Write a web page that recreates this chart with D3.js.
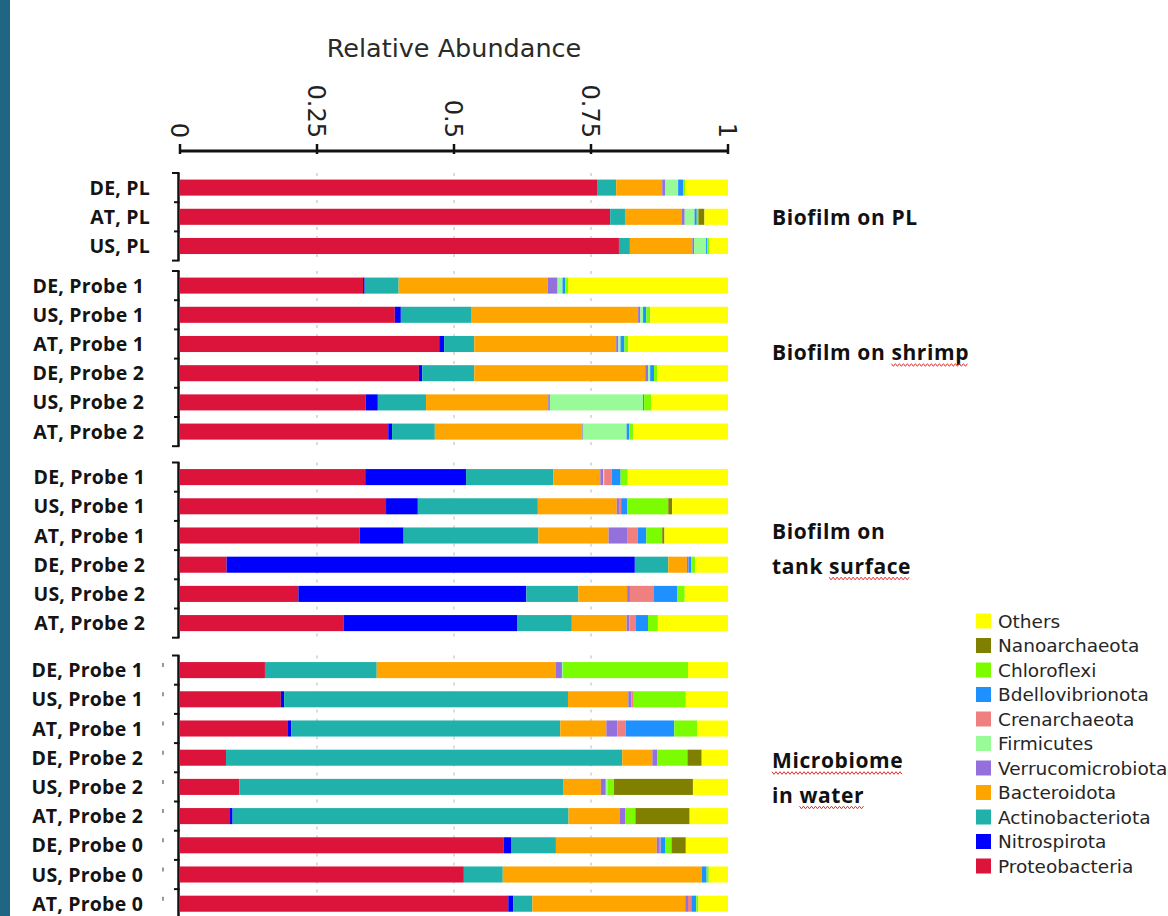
<!DOCTYPE html>
<html>
<head>
<meta charset="utf-8">
<script src="https://cdn.jsdelivr.net/npm/d3@7"></script>
<style>
  html, body { margin: 0; padding: 0; background: #fff; overflow: hidden; }
  svg { display: block; }
</style>
</head>
<body>
<svg id="chart" width="1168" height="916"></svg>
<script>
// ---- data -------------------------------------------------------------
// stacking order, left to right
const taxa = ["Proteobacteria", "Nitrospirota", "Actinobacteriota", "Bacteroidota",
  "Verrucomicrobiota", "Firmicutes", "Crenarchaeota", "Bdellovibrionota",
  "Chloroflexi", "Nanoarchaeota", "Others"];

const plLabels = ["DE, PL", "AT, PL", "US, PL"];
const plValues = [
  [0.761, 0,     0.035, 0.084, 0.005, 0.024, 0,     0.009, 0.004, 0,     0.078],
  [0.785, 0,     0.027, 0.104, 0.005, 0.018, 0,     0.004, 0.003, 0.011, 0.043],
  [0.801, 0,     0.020, 0.114, 0.003, 0.022, 0,     0.002, 0.004, 0,     0.034]
];

const shrimpLabels = ["DE, Probe 1", "US, Probe 1", "AT, Probe 1", "DE, Probe 2", "US, Probe 2", "AT, Probe 2"];
const shrimpValues = [
  [0.334, 0.003, 0.062, 0.272, 0.018, 0.009, 0,     0.005, 0.005, 0,     0.292],
  [0.392, 0.011, 0.128, 0.305, 0.004, 0.005, 0,     0.006, 0.007, 0,     0.142],
  [0.473, 0.009, 0.055, 0.259, 0.004, 0.004, 0,     0.007, 0.007, 0,     0.182],
  [0.436, 0.006, 0.095, 0.312, 0.005, 0.004, 0,     0.007, 0.006, 0,     0.129],
  [0.339, 0.022, 0.088, 0.223, 0.003, 0.170, 0,     0.002, 0.013, 0,     0.140],
  [0.380, 0.007, 0.078, 0.268, 0.002, 0.080, 0,     0.005, 0.007, 0,     0.173]
];

const tankLabels = ["DE, Probe 1", "US, Probe 1", "AT, Probe 1", "DE, Probe 2", "US, Probe 2", "AT, Probe 2"];
const tankValues = [
  [0.338, 0.184, 0.159, 0.086, 0.005, 0.002, 0.014, 0.016, 0.013, 0,     0.183],
  [0.376, 0.058, 0.219, 0.144, 0.004, 0,     0.004, 0.011, 0.075, 0.007, 0.102],
  [0.328, 0.080, 0.246, 0.128, 0.035, 0,     0.018, 0.016, 0.029, 0.004, 0.116],
  [0.085, 0.745, 0.061, 0.034, 0.003, 0,     0,     0.005, 0.007, 0,     0.060],
  [0.216, 0.416, 0.095, 0.089, 0.005, 0,     0.044, 0.042, 0.014, 0,     0.079],
  [0.299, 0.316, 0.100, 0.100, 0.005, 0,     0.012, 0.022, 0.018, 0,     0.128]
];

const waterLabels = ["DE, Probe 1", "US, Probe 1", "AT, Probe 1", "DE, Probe 2", "US, Probe 2",
  "AT, Probe 2", "DE, Probe 0", "US, Probe 0", "AT, Probe 0"];
const waterValues = [
  [0.155, 0,     0.204, 0.327, 0.011, 0.002, 0,     0,     0.228, 0,     0.073],
  [0.184, 0.006, 0.518, 0.110, 0.006, 0,     0.004, 0,     0.095, 0,     0.077],
  [0.197, 0.006, 0.491, 0.084, 0.020, 0,     0.015, 0.089, 0.042, 0,     0.056],
  [0.084, 0,     0.723, 0.055, 0.009, 0,     0,     0,     0.055, 0.026, 0.048],
  [0.108, 0,     0.591, 0.069, 0.009, 0.003, 0,     0,     0.012, 0.144, 0.064],
  [0.090, 0.006, 0.613, 0.093, 0.011, 0,     0,     0,     0.018, 0.099, 0.070],
  [0.591, 0.013, 0.082, 0.184, 0.004, 0,     0.003, 0.009, 0.011, 0.026, 0.077],
  [0.518, 0,     0.071, 0.363, 0,     0,     0,     0.009, 0.004, 0,     0.035],
  [0.599, 0.009, 0.035, 0.279, 0.005, 0,     0.006, 0.009, 0.004, 0,     0.054]
];

const groupNotes = [["Biofilm on PL"], ["Biofilm on shrimp"], ["Biofilm on", "tank surface"], ["Microbiome", "in water"]];
const flaggedWords = ["shrimp", "surface", "Microbiome", "water"];

const tickValues = [0, 0.25, 0.5, 0.75, 1];
const tickLabels = ["0", "0.25", "0.5", "0.75", "1"];
const gridValues = [0.25, 0.5, 0.75];
const axisTitle = "Relative Abundance";

// ---- styling ----------------------------------------------------------
const taxonColors = ["#dc143c", "#0000ff", "#20b2aa", "#ffa500", "#9370db", "#98fb98",
  "#f08080", "#1e90ff", "#7cfc00", "#808000", "#ffff00"];
const color = d3.scaleOrdinal().domain(taxa).range(taxonColors);

const groups = [
  { labels: plLabels, values: plValues },
  { labels: shrimpLabels, values: shrimpValues },
  { labels: tankLabels, values: tankValues },
  { labels: waterLabels, values: waterValues }
];

const step = 29.2;            // row pitch
const firstTop = 173;
const groupGap = [0, 10.4, 16.3, 17.8];
const labelRight = [150, 144, 145, 143];
const noteX = 772;
const noteBaseline = [225, 360, 539, 768];
const noteLineGap = 34.5;

const svg = d3.select("#chart");
svg.append("rect").attr("x", 0).attr("y", 0).attr("width", 1168).attr("height", 916).attr("fill", "#fff");
svg.append("rect").attr("x", 0).attr("y", 0).attr("width", 10).attr("height", 916).attr("fill", "#1e6684");

const x = d3.scaleLinear().domain([0, 1]).range([180, 728]);

// ---- top axis ---------------------------------------------------------
const axisY = 151;
const axisG = svg.append("g");
axisG.append("line")
  .attr("x1", x(0)).attr("x2", x(1)).attr("y1", axisY).attr("y2", axisY)
  .attr("stroke", "#111").attr("stroke-width", 3);
axisG.selectAll("line.tick").data(tickValues).join("line")
  .attr("class", "tick")
  .attr("x1", d => x(d)).attr("x2", d => x(d))
  .attr("y1", axisY - 7).attr("y2", axisY + 3)
  .attr("stroke", "#111").attr("stroke-width", 2.5);
axisG.selectAll("text.tl").data(tickValues).join("text")
  .attr("class", "tl")
  .attr("transform", d => `translate(${x(d)},${axisY - 13}) rotate(90)`)
  .attr("text-anchor", "end")
  .attr("dy", "0.36em")
  .attr("font-family", "DejaVu Sans")
  .attr("font-size", 24)
  .attr("fill", "#222")
  .text((d, i) => tickLabels[i]);
svg.append("text")
  .attr("x", (x(0) + x(1)) / 2).attr("y", 57)
  .attr("text-anchor", "middle")
  .attr("font-family", "DejaVu Sans")
  .attr("font-size", 25.5)
  .attr("fill", "#2a2a2a")
  .text(axisTitle);

// ---- groups of stacked bars ------------------------------------------
let groupTop = firstTop;
groups.forEach((grp, gi) => {
  groupTop += groupGap[gi];
  const top0 = groupTop;
  const n = grp.labels.length;
  const bottom = top0 + n * step;
  const ids = d3.range(n);
  const y = d3.scaleBand().domain(ids).range([top0, bottom]).paddingInner(0.45).paddingOuter(0.225);

  const rows = grp.values.map((vals, i) => {
    const o = { id: i };
    taxa.forEach((t, k) => { o[t] = vals[k]; });
    return o;
  });
  const series = d3.stack().keys(taxa)(rows);

  const g = svg.append("g");

  // dashed guides
  g.selectAll("line.grid").data(gridValues).join("line")
    .attr("class", "grid")
    .attr("x1", d => x(d)).attr("x2", d => x(d))
    .attr("y1", top0).attr("y2", bottom)
    .attr("stroke", "#c4c4c4").attr("stroke-width", 1.2)
    .attr("stroke-dasharray", "3,6");

  g.selectAll("g.series").data(series).join("g")
    .attr("class", "series")
    .attr("fill", d => color(d.key))
    .selectAll("rect").data(d => d.filter(s => s[1] - s[0] > 0)).join("rect")
    .attr("x", d => x(d[0]))
    .attr("width", d => x(d[1]) - x(d[0]))
    .attr("y", d => y(d.data.id))
    .attr("height", y.bandwidth());

  // bracket-like left axis
  g.append("line")
    .attr("x1", 178.5).attr("x2", 178.5).attr("y1", top0).attr("y2", bottom)
    .attr("stroke", "#111").attr("stroke-width", 2.5);
  g.selectAll("line.bt").data(d3.range(n + 1)).join("line")
    .attr("class", "bt")
    .attr("x1", d => (d === 0 || d === n) ? 172 : 174).attr("x2", 179.5)
    .attr("y1", d => top0 + d * step).attr("y2", d => top0 + d * step)
    .attr("stroke", "#111").attr("stroke-width", 2);

  // sample labels
  g.selectAll("text.lab").data(grp.labels).join("text")
    .attr("class", "lab")
    .attr("x", labelRight[gi])
    .attr("y", (d, i) => y(i) + y.bandwidth() / 2)
    .attr("dy", "0.36em")
    .attr("text-anchor", "end")
    .attr("font-family", "Open Sans")
    .attr("font-weight", 700)
    .attr("font-size", 19.5)
    .attr("letter-spacing", 0.2)
    .attr("fill", "#141414")
    .text(d => d);

  if (gi === 3) {
    g.selectAll("line.mk").data(ids).join("line")
      .attr("class", "mk")
      .attr("x1", 163).attr("x2", 163)
      .attr("y1", d => y(d) + y.bandwidth() / 2 - 7)
      .attr("y2", d => y(d) + y.bandwidth() / 2 - 3)
      .attr("stroke", "#777").attr("stroke-width", 1.5);
  }

  // group note on the right
  groupNotes[gi].forEach((line, li) => {
    const t = svg.append("text")
      .attr("x", noteX).attr("y", noteBaseline[gi] + li * noteLineGap)
      .attr("font-family", "Open Sans")
      .attr("font-weight", 700)
      .attr("font-size", 21)
      .attr("letter-spacing", 0.6)
      .attr("fill", "#111")
      .text(line);
    flaggedWords.forEach(w => {
      const idx = line.indexOf(w);
      if (idx < 0) return;
      const node = t.node();
      const x0 = noteX + (idx > 0 ? node.getSubStringLength(0, idx) : 0);
      const x1 = x0 + node.getSubStringLength(idx, w.length);
      const yy = noteBaseline[gi] + li * noteLineGap + 5;
      const pts = d3.range(x0, x1, 2).map((px, k) => [px, yy + (k % 2 ? 1.3 : -1.3)]);
      svg.append("path")
        .attr("d", d3.line()(pts))
        .attr("fill", "none")
        .attr("stroke", "#e03030")
        .attr("stroke-width", 1);
    });
  });

  groupTop = bottom;
});

// ---- legend -----------------------------------------------------------
const legendItems = taxa.slice().reverse();
const lg = svg.append("g");
lg.selectAll("rect").data(legendItems).join("rect")
  .attr("x", 976).attr("y", (d, i) => 621 + i * 24.5 - 7.5)
  .attr("width", 15).attr("height", 15)
  .attr("fill", d => color(d));
lg.selectAll("text").data(legendItems).join("text")
  .attr("x", 998).attr("y", (d, i) => 621 + i * 24.5)
  .attr("dy", "0.36em")
  .attr("font-family", "DejaVu Sans")
  .attr("font-size", 18.5)
  .attr("fill", "#262626")
  .text(d => d);
</script>
</body>
</html>
